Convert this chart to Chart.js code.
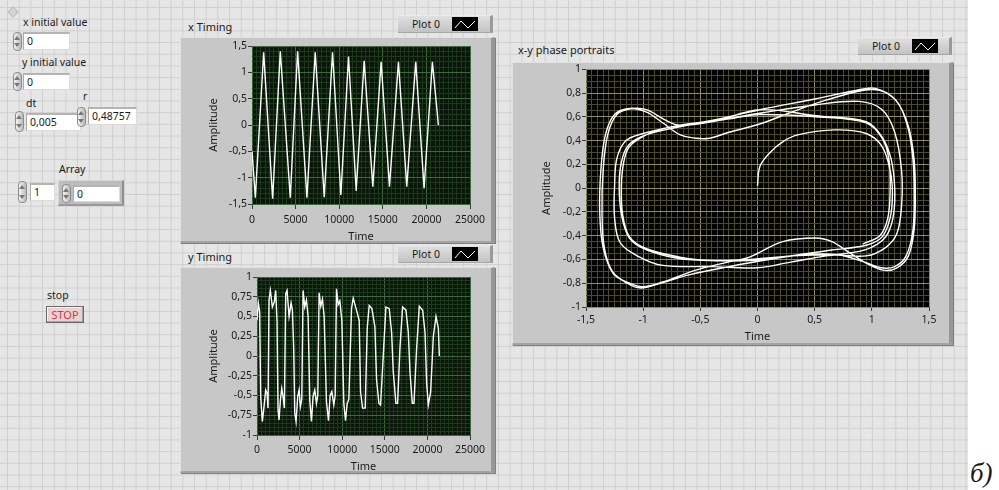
<!DOCTYPE html>
<html>
<head>
<meta charset="utf-8">
<script src="https://cdn.jsdelivr.net/npm/chart.js@4.4.1/dist/chart.umd.min.js"></script>
<style>
  html, body { margin:0; padding:0; background:#fff; }
  body { width:999px; height:490px; position:relative; overflow:hidden;
         font-family:"Noto Sans", sans-serif; font-size:10.5px; color:#1a1a1a; }
  #panel { position:absolute; left:0; top:0; width:968px; height:490px; background-color:#e6e6e6;
           background-image:linear-gradient(to right, #cfcfcf 1px, transparent 1px),
                            linear-gradient(to bottom, #cfcfcf 1px, transparent 1px);
           background-size:11.7px 11.7px; background-position:7px 7px; }
  .lbl { position:absolute; white-space:nowrap; line-height:13px; }
  .spin { position:absolute; width:9px; box-sizing:border-box; border:1px solid #8c8c8c; border-radius:4px;
          background:linear-gradient(to right, #f4f4f4, #b9b9b9); }
  .spin:before, .spin:after { content:""; position:absolute; left:0; border-left:3.5px solid transparent; border-right:3.5px solid transparent; }
  .spin:before { top:3px; border-bottom:4px solid #777; }
  .spin:after { bottom:3px; border-top:4px solid #777; }
  .num { position:absolute; background:#fff; box-sizing:border-box; border:1px solid #dcdcdc;
         border-top:2px solid #b4b4b4; border-left:1px solid #a8a8a8; padding-left:3px; line-height:14px; }
  .frame { position:absolute; box-sizing:border-box; background:#c7c7c7;
           border-top:1px solid #e2e2e2; border-left:1px solid #e2e2e2;
           border-right:4px solid #979797; border-bottom:2px solid #a3a3a3; box-shadow:1px 1px 0 #808080; }
  .legend { position:absolute; box-sizing:border-box; height:18px; background:linear-gradient(#e0e0e0, #c3c3c3);
            border-right:3px solid #9a9a9a; border-bottom:1px solid #a6a6a6; border-top:1px solid #ececec; }
  .legend span { position:absolute; left:14px; top:1px; line-height:14px; }
  .legend svg { position:absolute; left:54px; top:1px; }
  canvas { position:absolute; }
  #stop { position:absolute; left:46px; top:306px; width:38px; height:17px; box-sizing:border-box;
          background:#e7d2d4; border:1px solid #6b6b6b; box-shadow:inset -1px -1px 0 #b59ea0, inset 1px 1px 0 #fbeff0;
          color:#e2303f; text-align:center; line-height:15px; font-size:11px; }
  #arrFrame { position:absolute; left:58px; top:180px; width:66px; height:26px; box-sizing:border-box;
              background:#bdbdbd; border:1px solid #d6d6d6; border-right:2px solid #8f8f8f; border-bottom:2px solid #999; }
  #origin { position:absolute; left:9px; top:8px; width:6px; height:6px; background:#d4d4d4; border:1px solid #bdbdbd; transform:rotate(45deg); }
  #tag { position:absolute; left:970px; top:458px; font-family:"Liberation Serif", serif; font-style:italic; font-size:27px; }
</style>
</head>
<body>
<div id="panel"></div>
<div id="origin"></div>

<!-- front panel controls -->
<div class="lbl" style="left:23px;top:16px">x initial value</div>
<div class="spin" style="left:13px;top:32px;height:19px"></div>
<div class="num" style="left:23px;top:32px;width:47px;height:18px">0</div>

<div class="lbl" style="left:22px;top:56px">y initial value</div>
<div class="spin" style="left:13px;top:72px;height:19px"></div>
<div class="num" style="left:23px;top:73px;width:47px;height:17px">0</div>

<div class="lbl" style="left:26px;top:97px">dt</div>
<div class="lbl" style="left:83px;top:90px">r</div>
<div class="spin" style="left:15px;top:111px;height:21px"></div>
<div class="num" style="left:26px;top:113px;width:55px;height:18px;line-height:15px">0,005</div>
<div class="spin" style="left:77px;top:107px;height:20px"></div>
<div class="num" style="left:88px;top:107px;width:49px;height:18px">0,48757</div>

<div class="lbl" style="left:59px;top:163px">Array</div>
<div class="spin" style="left:18px;top:181px;height:22px"></div>
<div class="num" style="left:30px;top:183px;width:25px;height:18px">1</div>
<div id="arrFrame"></div>
<div class="spin" style="left:62px;top:184px;height:19px"></div>
<div class="num" style="left:73px;top:185px;width:47px;height:17px">0</div>

<div class="lbl" style="left:47px;top:289px">stop</div>
<div id="stop">STOP</div>

<!-- x Timing -->
<div class="lbl" style="left:188px;top:20px;font-size:11px">x Timing</div>
<div class="legend" style="left:398px;top:15px;width:95px"><span>Plot 0</span>
  <svg width="26" height="14"><rect width="26" height="14" fill="#000"/><polyline points="3,11 9,4 16,11 23,4" fill="none" stroke="#fff" stroke-width="1"/></svg></div>
<div class="frame" style="left:180px;top:37px;width:315px;height:206px"></div>
<canvas id="cx" width="315" height="206" style="left:180px;top:37px"></canvas>

<!-- y Timing -->
<div class="lbl" style="left:188px;top:250px;font-size:11px">y Timing</div>
<div class="legend" style="left:398px;top:245px;width:95px"><span>Plot 0</span>
  <svg width="26" height="14"><rect width="26" height="14" fill="#000"/><polyline points="3,11 9,4 16,11 23,4" fill="none" stroke="#fff" stroke-width="1"/></svg></div>
<div class="frame" style="left:180px;top:267px;width:315px;height:206px"></div>
<canvas id="cy" width="315" height="206" style="left:180px;top:267px"></canvas>

<!-- phase portrait -->
<div class="lbl" style="left:518px;top:43px;font-size:11px">x-y phase portraits</div>
<div class="legend" style="left:858px;top:37px;width:94px"><span>Plot 0</span>
  <svg width="26" height="14"><rect width="26" height="14" fill="#000"/><polyline points="3,11 9,4 16,11 23,4" fill="none" stroke="#fff" stroke-width="1"/></svg></div>
<div class="frame" style="left:512px;top:62px;width:441px;height:283px"></div>
<canvas id="cp" width="441" height="283" style="left:512px;top:62px"></canvas>

<div id="tag">б)</div>

<script>
// x(t) waveform: troughs / peaks
const xTime = [0, 382, 1336, 2366, 3244, 4389, 5229, 6298, 7252, 8282, 9237, 10191,
               11069, 11947, 12863, 13855, 14809, 15763, 16794, 17748, 18779, 19733, 20687, 21374];
const xAmp  = [-0.5, -1.38, 1.38, -1.4, 1.4, -1.38, 1.4, -1.38, 1.38, -1.37, 1.38, -1.33,
               1.3, -1.25, 1.22, -1.17, 1.2, -1.17, 1.2, -1.17, 1.2, -1.2, 1.2, 0.0];

// y(t) waveform
const yTime = [0,157,314,431,627,784,1019,1176,1294,1411,
               1568,1803,2038,2195,2352,2470,2587,2744,2901,3058,
               3214,3371,3528,3763,3998,4155,4312,4430,4586,4782,
               4939,5096,5253,5410,5606,5802,5998,6194,6390,6586,
               6782,6978,7134,7291,7487,7683,7879,8154,8389,8585,
               8781,9016,9173,9330,9526,9722,9957,10192,10388,10584,
               10780,11094,11290,11682,11995,12152,12387,12701,12936,13171,
               13485,13838,14034,14308,14504,14818,15131,15523,15798,15994,
               16307,16503,16778,17091,17483,17758,17954,18228,18424,18738,
               19051,19443,19718,19914,20110,20384,20698,21011,21286,21403];
const yAmp  = [0.45,0.67,0.56,-0.51,-0.83,-0.68,-0.43,-0.47,-0.66,0.71,
               0.83,0.62,0.69,0.83,0.43,-0.68,-0.81,-0.56,-0.41,-0.51,
               -0.66,0.79,0.83,0.5,0.67,0.58,0.08,-0.72,-0.83,-0.51,
               -0.43,-0.64,-0.55,0.83,0.62,0.71,0.5,-0.56,-0.83,-0.51,
               -0.43,-0.6,-0.5,0.8,0.63,0.72,0.5,-0.58,-0.82,-0.5,
               -0.45,-0.62,-0.5,0.85,0.65,0.7,0.45,-0.6,-0.82,-0.6,
               -0.55,0.6,0.73,0.58,0.45,-0.45,-0.66,-0.66,0.35,0.64,
               0.6,0.37,-0.3,-0.6,-0.62,0.0,0.62,0.6,0.3,-0.2,
               -0.6,-0.6,0.1,0.62,0.58,0.3,-0.2,-0.6,-0.6,0.1,
               0.63,0.58,0.3,-0.35,-0.62,-0.45,0.25,0.5,0.35,0.0];

// phase portrait, one array per turn of the trajectory, [x, y]
const phaseLoopA = [[0,0.02],[0.02,0.18],[0.1,0.29],[0.22,0.39],[0.36,0.45],[0.68,0.49],[0.95,0.46],[1.09,0.35],
  [1.16,0.15],[1.18,-0.05],[1.16,-0.25],[1.09,-0.41],[0.95,-0.48],[0.65,-0.52],[0.22,-0.58],[-0.07,-0.61],
  [-0.39,-0.61],[-0.68,-0.58],[-0.97,-0.51],[-1.12,-0.41],[-1.18,-0.22],[-1.19,0.02],[-1.17,0.22],[-1.12,0.35],
  [-0.97,0.45],[-0.83,0.5],[-0.4,0.57],[0.02,0.66],[0.5,0.75],[0.85,0.82],[1.03,0.84]];
const phaseLoopB = [[1.21,0.74],[1.32,0.52],[1.37,0.24],[1.38,-0.05],[1.37,-0.35],[1.32,-0.57],[1.22,-0.67],[1.1,-0.69],
  [0.95,-0.63],[0.8,-0.54],[0.65,-0.45],[0.51,-0.42],[0.22,-0.45],[-0.07,-0.58],[-0.25,-0.62],[-0.54,-0.69],
  [-0.83,-0.79],[-1.0,-0.83],[-1.12,-0.8],[-1.26,-0.72],[-1.35,-0.5],[-1.38,-0.2],[-1.37,0.15],[-1.33,0.45],
  [-1.25,0.62],[-1.12,0.67],[-0.97,0.64],[-0.83,0.55],[-0.68,0.45],[-0.54,0.42],[-0.42,0.42],[-0.25,0.47],
  [0.02,0.54],[0.3,0.64],[0.6,0.74],[1.0,0.83]];
const phaseLoopC = [[1.2,0.75],[1.31,0.53],[1.36,0.24],[1.37,-0.05],[1.36,-0.35],[1.3,-0.57],[1.2,-0.66],[1.08,-0.67],
  [0.93,-0.62],[0.7,-0.56],[0.4,-0.56],[0.1,-0.6],[-0.25,-0.66],[-0.6,-0.73],[-0.85,-0.8],[-1.02,-0.84],
  [-1.14,-0.8],[-1.27,-0.7],[-1.34,-0.5],[-1.36,-0.2],[-1.35,0.15],[-1.31,0.45],[-1.23,0.62],[-1.1,0.67],
  [-0.97,0.66],[-0.8,0.57],[-0.68,0.53],[-0.39,0.56],[0.02,0.66],[0.51,0.61],[0.95,0.56],[1.09,0.43],
  [1.17,0.24],[1.2,0.0]];
const phaseLoopD = [[1.19,-0.22],[1.14,-0.38],[1.05,-0.47],[0.9,-0.53],[0.6,-0.57],[0.3,-0.62],[0.0,-0.67],[-0.4,-0.66],
  [-0.83,-0.65],[-1.03,-0.58],[-1.2,-0.46],[-1.25,-0.25],[-1.25,0.02],[-1.23,0.25],[-1.15,0.4],[-1.0,0.46],
  [-0.83,0.5],[-0.68,0.53],[-0.3,0.58],[0.02,0.63],[0.5,0.7],[0.89,0.73],[1.09,0.66],[1.2,0.47],
  [1.26,0.15],[1.26,-0.15],[1.22,-0.38],[1.12,-0.5],[0.95,-0.57],[0.65,-0.56],[0.3,-0.57],[-0.07,-0.6]];
const phaseLoopE = [[-0.4,-0.61],[-0.7,-0.59],[-0.97,-0.52],[-1.12,-0.42],[-1.19,-0.22],[-1.21,0.02],[-1.19,0.22],
  [-1.13,0.36],[-0.97,0.45],[-0.6,0.53],[-0.2,0.59],[0.02,0.62],[0.51,0.6],[0.95,0.55],[1.09,0.42],
  [1.15,0.24],[1.16,-0.02],[1.14,-0.25],[1.07,-0.4],[0.92,-0.47]];

// axis tick labels (major ticks)
const xTimingXTicks = [0, 5000, 10000, 15000, 20000, 25000];
const xTimingYTicks = [-1.5, -1, -0.5, 0, 0.5, 1, 1.5];
const yTimingXTicks = [0, 5000, 10000, 15000, 20000, 25000];
const yTimingYTicks = [-1, -0.75, -0.5, -0.25, 0, 0.25, 0.5, 0.75, 1];
const phaseXTicks = [-1.5, -1, -0.5, 0, 0.5, 1, 1.5];
const phaseYTicks = [-1, -0.8, -0.6, -0.4, -0.2, 0, 0.2, 0.4, 0.6, 0.8, 1];

Chart.defaults.font.family = '"Noto Sans", sans-serif';
Chart.defaults.font.size = 10.5;
Chart.defaults.color = '#1a1a1a';

function fmt(v){ return String(Math.round(v * 1000) / 1000).replace('.', ','); }

// major ticks plus evenly split minor grid between them
function withMinor(major, sub){
  const out = [];
  for(let i = 0; i < major.length; i++){
    out.push({ value: major[i], isMajor: true });
    if(i < major.length - 1){
      const step = (major[i + 1] - major[i]) / sub;
      for(let k = 1; k < sub; k++) out.push({ value: major[i] + step * k, isMajor: false });
    }
  }
  return out;
}

function axis(o){
  const horiz = o.pos === 'bottom';
  return {
    type: 'linear', position: o.pos, min: o.ticks[0], max: o.ticks[o.ticks.length - 1],
    afterBuildTicks: s => { s.ticks = withMinor(o.ticks, o.sub); },
    afterFit: s => { if(horiz) s.height = o.size; else s.width = o.size; },
    ticks: { autoSkip:false, maxRotation:0, minRotation:0, padding:o.pad, color:'#1a1a1a',
             callback: (v, i, t) => (t[i] && t[i].isMajor) ? fmt(v) : '' },
    grid: { color: c => (c.tick && c.tick.isMajor) ? o.major : o.minor,
            tickColor: c => (c.tick && c.tick.isMajor) ? '#3a3a3a' : 'rgba(0,0,0,0)',
            tickLength: o.tl, lineWidth: 1 },
    border: { display:false },
    title: { display:true, text:o.title, color:'#1a1a1a', font:{ size:11 },
             padding: horiz ? { top:0, bottom:o.tpad } : { top:o.tpad, bottom:0 } }
  };
}

const plotBg = {
  id: 'plotBg',
  beforeDraw(chart, args, opts){
    const a = chart.chartArea, c = chart.ctx;
    c.save();
    c.fillStyle = opts.color;
    c.fillRect(a.left, a.top, a.right - a.left, a.bottom - a.top);
    c.restore();
  }
};

function pairs(xs, ys){ return xs.map((v, i) => ({ x: v, y: ys[i] })); }

function makeChart(id, points, pad, xs, ys, bg, tension){
  return new Chart(document.getElementById(id), {
    type: 'scatter',
    data: { datasets: [{ data: points, showLine: true, borderColor: '#ffffff', borderWidth: 1.4,
                         pointRadius: 0, tension: tension, fill: false }] },
    options: {
      responsive: false, animation: false, devicePixelRatio: 1,
      layout: { padding: pad },
      plugins: { legend: { display:false }, tooltip: { enabled:false }, plotBg: { color: bg } },
      scales: { x: axis(xs), y: axis(ys) }
    },
    plugins: [plotBg]
  });
}

const greenMajor = '#3c6a3c', greenMinor = '#1d381d';
makeChart('cx', pairs(xTime, xAmp), { left:0, top:9, right:25, bottom:0 },
  { pos:'bottom', ticks:xTimingXTicks, sub:10, size:39, tl:5, pad:5, title:'Time', tpad:0, major:greenMajor, minor:greenMinor },
  { pos:'left', ticks:xTimingYTicks, sub:5, size:72, tl:4, pad:1, title:'Amplitude', tpad:27, major:greenMajor, minor:greenMinor },
  '#081708', 0);

makeChart('cy', pairs(yTime, yAmp), { left:0, top:10, right:25, bottom:0 },
  { pos:'bottom', ticks:yTimingXTicks, sub:10, size:38, tl:5, pad:4, title:'Time', tpad:0, major:greenMajor, minor:greenMinor },
  { pos:'left', ticks:yTimingYTicks, sub:5, size:77, tl:4, pad:1, title:'Amplitude', tpad:27, major:greenMajor, minor:greenMinor },
  '#081708', 0);

const phasePath = [].concat(phaseLoopA, phaseLoopB, phaseLoopC, phaseLoopD, phaseLoopE).map(p => ({ x: p[0], y: p[1] }));
makeChart('cp', phasePath, { left:0, top:7, right:24, bottom:2 },
  { pos:'bottom', ticks:phaseXTicks, sub:10, size:36, tl:4, pad:3, title:'Time', tpad:0, major:'#8f8f50', minor:'#4b4b27' },
  { pos:'left', ticks:phaseYTicks, sub:4, size:74, tl:4, pad:1, title:'Amplitude', tpad:28, major:'#8f8f50', minor:'#4b4b27' },
  '#030303', 0.35);
</script>
</body>
</html>
